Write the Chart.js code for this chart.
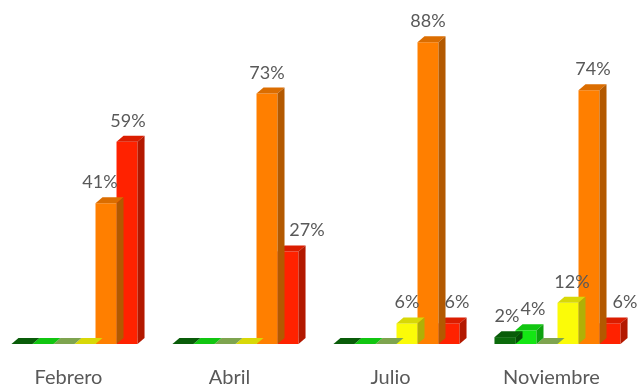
<!DOCTYPE html>
<html>
<head>
<meta charset="utf-8">
<script src="https://cdn.jsdelivr.net/npm/chart.js@4"></script>
<style>
html, body { margin: 0; padding: 0; background: #fff; overflow: hidden; }
#wrap { position: absolute; left: -6px; top: 0; width: 650px; height: 412px; }
</style>
</head>
<body>
<div id="wrap"><canvas id="myChart"></canvas></div>
<script>
const categories = ['Febrero', 'Abril', 'Julio', 'Noviembre'];
const seriesNames = ['Serie 1', 'Serie 2', 'Serie 3', 'Serie 4', 'Serie 5', 'Serie 6'];
const darkGreen = [0, 0, 0, 2];
const green = [0, 0, 0, 4];
const lightGreen = [0, 0, 0, 0];
const yellow = [0, 0, 6, 12];
const orange = [41, 73, 88, 74];
const red = [59, 27, 6, 6];
const colors = ['#0b6b0b', '#14e614', '#92bf5c', '#fbfb08', '#ff7f00', '#ff2200'];

// sideways nudge of the % labels (px), same shape as the series
const labelNudge = [
    [0, 0, 0, 2],
    [0, 0, 0, 7],
    [0, 0, 0, 0],
    [0, 0, 0, 4],
    [-6, 0, 0, 4],
    [1, 19, 8, 15]
];

const depthX = 7;
const depthY = -6;

function shade(hex, f) {
    let n = parseInt(hex.slice(1), 16);
    let r = Math.round(((n >> 16) & 255) * f);
    let g = Math.round(((n >> 8) & 255) * f);
    let b = Math.round((n & 255) * f);
    return 'rgb(' + r + ',' + g + ',' + b + ')';
}

// top and side faces for the 3d look
const bars3d = {
    id: 'bars3d',
    afterDatasetDraw(chart, args) {
        const ctx = chart.ctx;
        const meta = args.meta;
        const col = chart.data.datasets[args.index].backgroundColor;
        ctx.save();
        meta.data.forEach(function(bar) {
            const p = bar.getProps(['x', 'y', 'base', 'width'], true);
            const l = p.x - p.width / 2;
            const r = p.x + p.width / 2;
            const t = Math.min(p.y, p.base);
            const b = p.base;
            ctx.fillStyle = shade(col, 0.86);
            ctx.beginPath();
            ctx.moveTo(l, t);
            ctx.lineTo(l + depthX, t + depthY);
            ctx.lineTo(r + depthX, t + depthY);
            ctx.lineTo(r, t);
            ctx.closePath();
            ctx.fill();
            if (b - t > 0.5) {
                ctx.fillStyle = shade(col, 0.7);
                ctx.beginPath();
                ctx.moveTo(r, t);
                ctx.lineTo(r + depthX, t + depthY);
                ctx.lineTo(r + depthX, b + depthY);
                ctx.lineTo(r, b);
                ctx.closePath();
                ctx.fill();
            }
        });
        ctx.restore();
    },
    afterDatasetsDraw(chart) {
        const ctx = chart.ctx;
        ctx.save();
        ctx.font = '18px Lato';
        ctx.fillStyle = '#595959';
        ctx.textAlign = 'center';
        ctx.textBaseline = 'alphabetic';
        chart.data.datasets.forEach(function(ds, i) {
            const meta = chart.getDatasetMeta(i);
            meta.data.forEach(function(bar, j) {
                const v = ds.data[j];
                if (!v) return;
                ctx.fillText(v + '%', bar.x + labelNudge[i][j], bar.y - 15);
            });
        });
        ctx.restore();
    }
};

const seriesValues = [darkGreen, green, lightGreen, yellow, orange, red];

const myChart = new Chart(document.getElementById('myChart'), {
    type: 'bar',
    data: {
        labels: categories,
        datasets: seriesValues.map(function(vals, i) {
            return {
                label: seriesNames[i],
                data: vals,
                backgroundColor: colors[i],
                borderWidth: 0,
                barPercentage: 1,
                categoryPercentage: 0.783
            };
        })
    },
    options: {
        responsive: true,
        maintainAspectRatio: false,
        animation: false,
        layout: { padding: { top: 1, right: 6, left: 0, bottom: 0 } },
        plugins: {
            legend: { display: false },
            tooltip: { enabled: false }
        },
        scales: {
            x: {
                grid: { display: false, drawTicks: false },
                border: { display: false },
                ticks: {
                    color: '#595959',
                    font: { family: 'Lato', size: 20, lineHeight: 1 },
                    padding: 24,
                    labelOffset: -6
                }
            },
            y: {
                display: false,
                min: 0,
                max: 100
            }
        }
    },
    plugins: [bars3d]
});
</script>
</body>
</html>
